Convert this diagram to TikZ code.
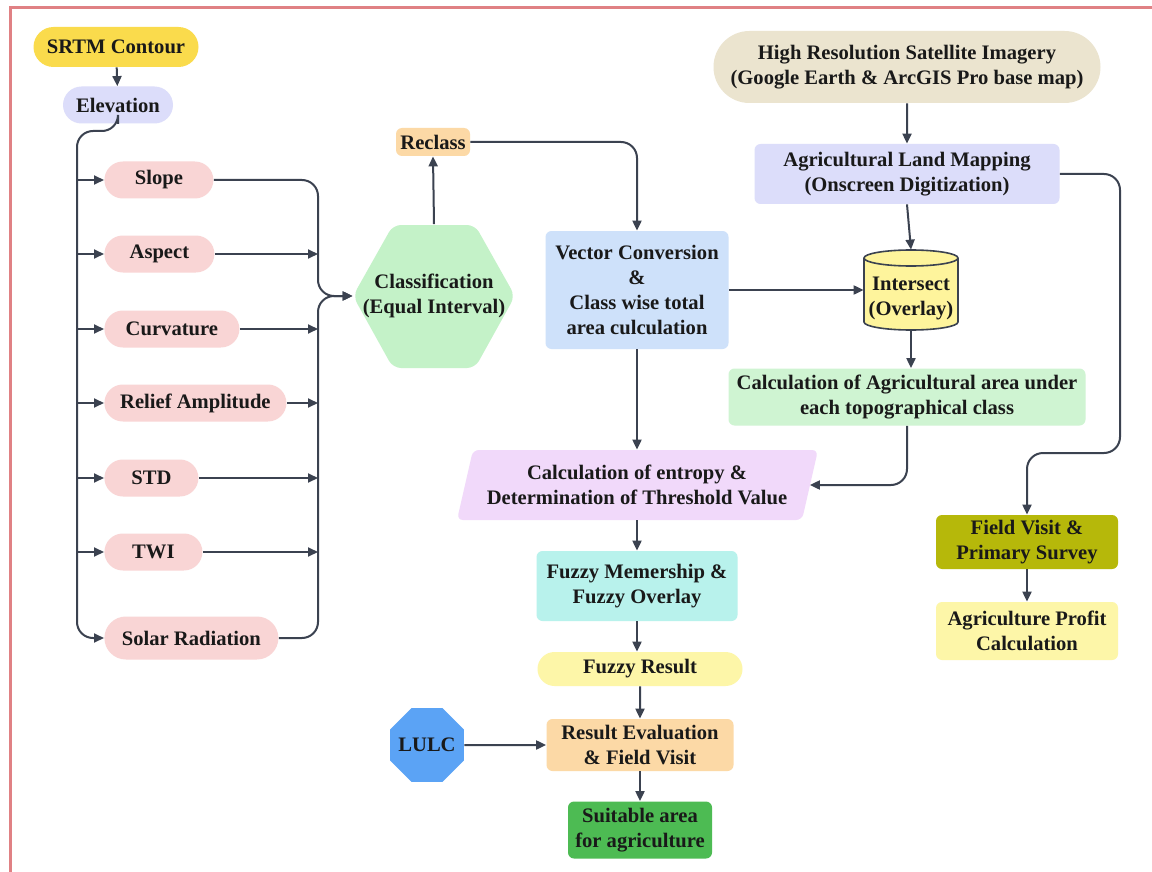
\documentclass[tikz,border=0pt]{standalone}
\usepackage{fontspec}
\setmainfont{Liberation Serif}
\usetikzlibrary{arrows.meta,shapes.misc,shapes.geometric,calc}

\definecolor{ink}{HTML}{3B4250}
\definecolor{framered}{HTML}{E08184}
\definecolor{srtmyel}{HTML}{FADB4C}
\definecolor{lavender}{HTML}{DCDDFA}
\definecolor{pinkbox}{HTML}{F9D5D5}
\definecolor{hexgreen}{HTML}{C4F2C8}
\definecolor{peach}{HTML}{FCD9A6}
\definecolor{vecblue}{HTML}{CEE1FA}
\definecolor{beige}{HTML}{EBE4CF}
\definecolor{cylfill}{HTML}{FEF49C}
\definecolor{agrigreen}{HTML}{CFF4D2}
\definecolor{entpurple}{HTML}{F1D9FA}
\definecolor{cyanbox}{HTML}{B8F2EC}
\definecolor{paleyel}{HTML}{FDF6A8}
\definecolor{lulcblue}{HTML}{5BA3F5}
\definecolor{suitgreen}{HTML}{4DBB53}
\definecolor{olive}{HTML}{B6B80A}

\tikzset{
  base/.style={inner sep=0pt, align=center, text=black!90,
    font=\fontsize{10.3}{12.5}\selectfont\bfseries},
  box/.style={base, rectangle, rounded corners=3pt},
  pill/.style={base, rounded rectangle},
  factor/.style={pill, fill=pinkbox, minimum height=18.5pt, anchor=west},
  flow/.style={->, draw=ink, line width=1pt},
}

\begin{document}
\begin{tikzpicture}[x=0.5pt, y=-0.5pt, >={Triangle[length=5pt, width=4.5pt]}]
            \useasboundingbox (0,0) rectangle (1152,872);
            % Frame
            \fill[white] (0,0) rectangle (1152,872);
            \draw[framered, line width=1.5pt] (10,8) rectangle (1170,890);

            % Topographic inputs
            \node[pill, fill=srtmyel, minimum width=82.5pt, minimum height=20pt] (srtm) at (116,47) {SRTM Contour};
            \node[pill, fill=lavender, minimum width=55pt, minimum height=18.5pt] (elev) at (118,105) {Elevation};
            \foreach \nm/\txt/\y/\w in {slope/Slope/180/54.5pt, aspect/Aspect/254/55pt,
                curv/Curvature/329/67.5pt, relief/Relief Amplitude/403/91pt,
                std/STD/478/47pt, twi/TWI/552/49pt} {
                \node[factor, minimum width=\w] (\nm) at (104,\y) {\txt};
            }
            \node[factor, minimum width=87pt, minimum height=21.5pt] (solar) at (104,638) {Solar Radiation};

            % Classification hexagon
            \fill[hexgreen, rounded corners=4pt] (353,296) -- (393,225) -- (475,225) -- (515,296) -- (475,368) -- (393,368) -- cycle;
            \node[base, minimum width=81pt, minimum height=71.5pt] (cls) at (434,296) {Classification\\(Equal Interval)};
            \node[box, fill=peach, minimum width=37pt, minimum height=14pt] (recl) at (433,142) {Reclass};
            \node[box, fill=vecblue, minimum width=91.5pt, minimum height=59pt] (vec) at (637,290) {Vector Conversion\\\&\\Class wise total\\area culculation};

            % Satellite branch
            \node[pill, fill=beige, minimum width=193.5pt, minimum height=36pt] (hrsi) at (907,67) {High Resolution Satellite Imagery\\(Google Earth \& ArcGIS Pro base map)};
            \node[box, fill=lavender, minimum width=152.5pt, minimum height=30pt] (alm) at (907,174) {Agricultural Land Mapping\\(Onscreen Digitization)};
            \filldraw[fill=cylfill, draw=ink, line width=0.8pt] (911,322) ellipse [x radius=47, y radius=8];
            \fill[cylfill] (864,258) rectangle (958,322);
            \draw[ink, line width=0.8pt] (864,258) -- (864,322) (958,258) -- (958,322);
            \filldraw[fill=cylfill, draw=ink, line width=0.8pt] (911,258) ellipse [x radius=47, y radius=8];
            \node[base, minimum width=47pt, minimum height=40pt] (isect) at (911,290) {\raisebox{-4pt}[\height][\depth]{\begin{tabular}{@{}c@{}}Intersect\\(Overlay)\end{tabular}}};
            \node[box, fill=agrigreen, minimum width=178.5pt, minimum height=28.5pt] (agri) at (907,397) {Calculation of Agricultural area under\\each topographical class};

            % Entropy and fuzzy chain
            \fill[entpurple, rounded corners=3pt] (473,450) -- (818,450) -- (802,520) -- (457,520) -- cycle;
            \node[base, minimum width=172.5pt, minimum height=35pt] (ent) at (637,485) {Calculation of entropy \&\\Determination of Threshold Value};
            \node[box, fill=cyanbox, minimum width=100.5pt, minimum height=35pt] (fm) at (637,586) {Fuzzy Memership \&\\Fuzzy Overlay};
            \node[pill, fill=paleyel, minimum width=102.5pt, minimum height=17pt] (fr) at (640,669) {Fuzzy Result};
            \node[box, fill=peach, minimum width=93.5pt, minimum height=26pt] (reval) at (640,745) {Result Evaluation\\\& Field Visit};
            \node[base, regular polygon, regular polygon sides=8, fill=lulcblue, inner sep=-5pt, minimum size=40pt] (lulc) at (427,745) {LULC};
            \node[box, fill=suitgreen, minimum width=72pt, minimum height=28.5pt] (suit) at (640,830) {Suitable area\\for agriculture};

            % Field branch
            \node[box, fill=olive, minimum width=91pt, minimum height=27pt] (fv) at (1027,542) {Field Visit \&\\Primary Survey};
            \node[box, fill=paleyel, minimum width=91pt, minimum height=29pt] (profit) at (1027,631) {Agriculture Profit\\Calculation};

            % Connectors
            \coordinate (bus) at (77,131);
            \coordinate (mrg) at (318,296);
            \draw[flow] (srtm) -- (elev);
            \draw[flow, rounded corners=8pt] (elev.south) |- (bus) |- (solar.west);
            \foreach \nm in {slope,aspect,curv,relief,std,twi} {
                \draw[flow] (bus |- \nm.west) -- (\nm.west);
            }
            \foreach \nm in {aspect,curv,relief,std,twi} {
                \draw[flow] (\nm.east) -- (\nm.east -| mrg);
            }
            \draw[flow, rounded corners=8pt] (slope.east) -| (mrg) -- (cls.west);
            \draw[flow, rounded corners=8pt] (solar.east) -| (mrg) -- (cls.west);
            \draw[flow] (cls.north) -- (recl.south);
            \draw[flow, rounded corners=8pt] (recl.east) -| (vec.north);
            \draw[flow] (vec.east) -- (isect.west);
            \draw[flow] (hrsi) -- (alm);
            \draw[flow] (alm.south) -- (isect.north);
            \draw[flow] (isect.south) -- (isect.south |- agri.north);
            \draw[flow, rounded corners=8pt] (agri.south) |- (ent.east);
            \draw[flow] (vec.south) -- (ent.north);
            \draw[flow] (ent.south) -- (fm.north);
            \draw[flow] (fm.south) -- (fm.south |- fr.north);
            \draw[flow] (fr) -- (reval);
            \draw[flow] (lulc) -- (reval);
            \draw[flow] (reval) -- (suit);
            \draw[flow, rounded corners=8pt] (alm.east) -| (1120,453) -| (fv.north);
            \draw[flow] (fv) -- (profit);
        \end{tikzpicture}
\end{document}
